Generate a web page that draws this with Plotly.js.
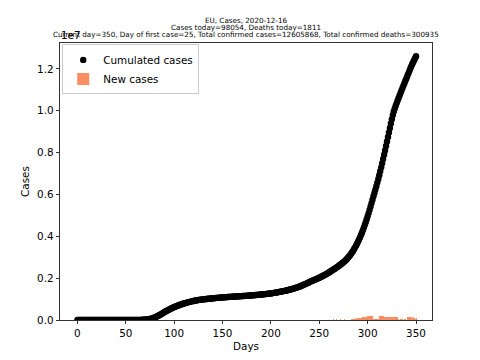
<!DOCTYPE html>
<html>
<head>
<meta charset="utf-8">
<script src="https://cdn.plot.ly/plotly-3.0.1.min.js"></script>
<style>html,body{margin:0;padding:0;background:#fff}#chart{width:480px;height:360px}</style>
</head>
<body>
<div id="chart"></div>
<script>
// Cumulated cases, in thousands, for days 0..350
const cumulatedK = [
  0,0,0,0,0,0,0,0,0,0,0,0,0,0,0,0,0,0,0,0,0,0,0,0,0,
  0.003,0.004,0.005,0.005,0.008,0.010,0.012,0.014,0.016,0.018,
  0.020,0.022,0.025,0.027,0.028,0.029,0.030,0.030,0.031,0.031,
  0.032,0.032,0.033,0.033,0.034,0.035,0.045,0.09,0.17,0.26,
  0.35,0.45,0.62,0.9,1.2,1.7,2.3,3.0,3.8,5.0,
  6.3,7.9,10.0,12.6,15.8,19.8,24.5,30.0,36.5,44.0,
  53,63,75,89,105,123,143,165,189,214,
  240,267,295,323,351,379,406,432,458,483,
  507,531,554,576,597,617,637,656,674,692,
  709,726,742,758,773,788,802,816,830,843,
  856,868,880,891,901,911,920,929,938,946,
  954,961,968,975,981,987,992,997,1002,1007,
  1012,1017,1022,1027,1032,1037,1042,1047,1051,1055,
  1059,1063,1067,1071,1075,1079,1083,1087,1090,1094,
  1097,1100,1103,1106,1109,1112,1115,1118,1121,1124,
  1127,1130,1133,1136,1139,1142,1145,1148,1151,1155,
  1158,1162,1165,1169,1172,1176,1180,1184,1188,1192,
  1196,1200,1204,1208,1213,1217,1222,1227,1232,1237,
  1242,1247,1253,1259,1265,1272,1279,1286,1294,1302,
  1310,1318,1327,1336,1345,1354,1363,1372,1382,1392,
  1402,1413,1424,1435,1447,1459,1471,1484,1497,1511,
  1525,1540,1556,1572,1589,1606,1625,1645,1665,1686,
  1707,1728,1750,1772,1795,1818,1838,1858,1878,1898,
  1918,1938,1958,1979,2000,2022,2044,2067,2090,2114,
  2139,2164,2190,2217,2245,2274,2304,2334,2364,2394,
  2424,2454,2485,2516,2548,2581,2615,2650,2686,2723,
  2762,2803,2847,2893,2942,2995,3051,3111,3175,3243,
  3315,3391,3471,3555,3643,3736,3834,3938,4048,4163,
  4283,4408,4538,4673,4813,4958,5108,5263,5423,5585,
  5748,5910,6070,6230,6395,6565,6740,6920,7105,7295,
  7490,7690,7895,8105,8320,8535,8750,8965,9180,9390,
  9595,9790,9960,10110,10240,10365,10485,10605,10725,10845,
  10965,11085,11200,11315,11430,11545,11660,11775,11890,12005,
  12115,12220,12320,12415,12507.814,12605.868
];

// New cases per day, in thousands, for days 0..350
const newCasesK = [
  0,0,0,0,0,0,0,0,0,0,0,0,0,0,0,0,0,0,0,0,0,0,0,0,0,
  0.003,0.001,0.001,0,0.003,0.002,0.002,0.002,0.002,0.002,
  0.002,0.002,0.003,0.002,0.001,0.001,0.001,0,0.001,0,
  0.001,0,0.001,0,0.001,0.001,0.01,0.045,0.08,0.09,
  0.09,0.1,0.17,0.28,0.3,0.5,0.6,0.7,0.8,1.2,
  1.3,1.6,2.1,2.6,3.2,4.0,4.7,5.5,6.5,7.5,
  9,10,12,14,16,18,20,22,23,23,
  22,23,22,23,22,23,21,22,23,22,
  22,23,21,22,21,20,20,19,18,18,
  17,17,16,16,15,15,14,14,14,13,
  13,12,12,11,10,10,9,9,9,8,
  8,7,7,7,6,6,5,5,5,5,
  5,5,5,5,5,5,5,5,4,4,
  4,4,4,4,4,4,4,4,3,4,
  3,3,3,3,3,3,3,3,3,3,
  3,3,3,3,3,3,3,3,3,4,
  3,4,3,4,3,4,4,4,4,4,
  4,4,4,4,5,4,5,5,5,5,
  5,5,6,6,6,7,7,7,8,8,
  8,8,9,9,9,9,9,9,10,10,
  10,11,11,11,12,12,12,13,13,14,
  14,15,16,16,17,17,19,20,20,21,
  21,21,22,22,23,23,20,20,20,20,
  20,20,20,21,21,22,22,23,23,23,
  23,22,21,23,22,23,21,22,23,22,
  45,15,20,42,18,12,22,48,20,22,
  18,45,22,20,23,21,22,23,58,62,
  65,70,75,70,80,90,95,100,105,115,
  130,140,150,160,145,170,180,190,200,210,
  185,60,50,45,55,50,60,195,200,205,
  210,190,160,150,155,160,150,145,155,150,
  160,150,145,140,135,150,140,30,20,25,
  30,25,20,30,25,22,120,125,130,120,
  125,115,120,110,30,98.054
];

const xTickVals = [0, 50, 100, 150, 200, 250, 300, 350];
const yTickVals = [0, 2e6, 4e6, 6e6, 8e6, 10e6, 12e6];
const yTickText = ['0.0', '0.2', '0.4', '0.6', '0.8', '1.0', '1.2'];
const titleLines = [
  'EU, Cases, 2020-12-16',
  'Cases today=98054, Deaths today=1811',
  'Current day=350, Day of first case=25, Total confirmed cases=12605868, Total confirmed deaths=300935'
];

const days = cumulatedK.map((_, i) => i);
const cumulated = cumulatedK.map(v => v * 1000);
const newCases = newCasesK.map(v => v * 1000);

const FONT = 'DejaVu Sans, Liberation Sans, sans-serif';

const traces = [
  {
    type: 'scatter', mode: 'markers', name: 'Cumulated cases',
    x: days, y: cumulated,
    marker: {color: '#000000', size: 6.4, line: {width: 0}},
    cliponaxis: true
  },
  {
    type: 'bar', name: 'New cases',
    x: days, y: newCases,
    marker: {color: 'rgba(252,141,98,0.995)', line: {width: 0}}
  }
];

const axisCommon = {
  showline: true, linecolor: '#000', linewidth: 0.8, mirror: true,
  ticks: 'outside', ticklen: 3.5, tickwidth: 0.8, tickcolor: '#000',
  showgrid: false, zeroline: false,
  tickfont: {family: FONT, size: 10.4, color: '#000'}
};

// title lines as centred annotations above the axes (paper y of each line centre)
const titleY = [1.082, 1.0567, 1.0314];
const titleAnnotations = titleLines.map((t, i) => ({
  text: t, xref: 'paper', yref: 'paper', x: 0.5, y: titleY[i],
  xanchor: 'center', yanchor: 'middle', showarrow: false, borderpad: 0,
  font: {family: FONT, size: 7.2, color: '#000000'}
}));

const layout = {
  width: 480, height: 360,
  margin: {l: 60, r: 48, t: 43, b: 40, pad: 0},
  paper_bgcolor: '#fff', plot_bgcolor: '#fff',
  font: {family: FONT, size: 10.4, color: '#000'},
  bargap: 0,
  showlegend: true,
  xaxis: Object.assign({}, axisCommon, {
    range: [-18, 366.5],
    tickmode: 'array', tickvals: xTickVals,
    title: {text: 'Days', font: {family: FONT, size: 10.4, color: '#000'}, standoff: 4}
  }),
  yaxis: Object.assign({}, axisCommon, {
    range: [0, 13236161],
    tickmode: 'array', tickvals: yTickVals, ticktext: yTickText,
    title: {text: 'Cases', font: {family: FONT, size: 10.4, color: '#000'}, standoff: 5}
  }),
  legend: {
    x: 0.006, y: 0.995, xanchor: 'left', yanchor: 'top',
    bgcolor: 'rgba(255,255,255,0.8)', bordercolor: '#cccccc', borderwidth: 1,
    font: {family: FONT, size: 10.4, color: '#000'},
    tracegroupgap: 0
  },
  annotations: titleAnnotations.concat([{
    text: '1e7', xref: 'paper', yref: 'paper', x: 0, y: 1,
    xanchor: 'left', yanchor: 'bottom', showarrow: false,
    font: {family: FONT, size: 10.4, color: '#000'}, borderpad: 0, yshift: 1
  }])
};

Plotly.newPlot('chart', traces, layout, {displayModeBar: false, staticPlot: true});
</script>
</body>
</html>
